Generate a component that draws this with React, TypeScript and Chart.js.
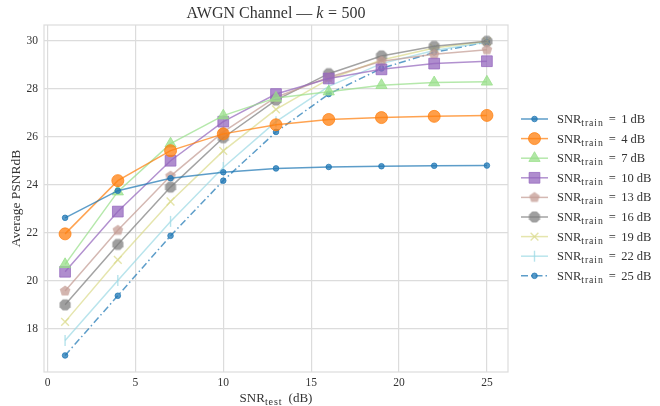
import React, { useEffect, useRef } from 'react';
import { Chart, registerables } from 'chart.js';
import { drawPoint } from 'chart.js/helpers';
Chart.register(...registerables);

const snrTest = [1, 4, 7, 10, 13, 16, 19, 22, 25];
const trainSnr = ['1', '4', '7', '10', '13', '16', '19', '22', '25'];
const s1 = [22.62, 23.75, 24.27, 24.52, 24.68, 24.74, 24.77, 24.79, 24.8];
const s4 = [21.95, 24.17, 25.42, 26.12, 26.5, 26.72, 26.8, 26.85, 26.89];
const s7 = [20.68, 23.71, 25.71, 26.88, 27.62, 27.88, 28.15, 28.26, 28.29];
const s10 = [20.37, 22.88, 25.0, 26.63, 27.78, 28.43, 28.81, 29.05, 29.15];
const s13 = [19.57, 22.1, 24.36, 26.2, 27.65, 28.48, 29.15, 29.44, 29.63];
const s16 = [18.99, 21.51, 23.9, 25.96, 27.53, 28.63, 29.37, 29.77, 29.98];
const s19 = [18.28, 20.87, 23.3, 25.41, 27.14, 28.4, 29.2, 29.7, 29.98];
const s22 = [17.5, 20.01, 22.47, 24.72, 26.63, 28.1, 29.05, 29.6, 29.95];
const s25 = [16.88, 19.37, 21.87, 24.17, 26.2, 27.78, 28.85, 29.52, 29.95];
const seriesValues = [s1, s4, s7, s10, s13, s16, s19, s22, s25];
const xTicks = [0, 5, 10, 15, 20, 25];
const yTicks = [18, 20, 22, 24, 26, 28, 30];

const rgbs = ['31,119,180', '255,127,14', '152,223,138', '148,103,189', '196,156,148', '127,127,127', '219,219,141', '158,218,229', '31,119,180'];
const FONT = '"Liberation Serif", "DejaVu Serif", serif';
const GRID = '#dcdcdc';
const TXT = '#333333';

function polyCanvas(n: number, r: number, rgb: string, rot: number) {
  const c = document.createElement('canvas');
  const s = Math.ceil(r * 2 + 2);
  c.width = s; c.height = s;
  const ctx = c.getContext('2d')!;
  ctx.beginPath();
  for (let i = 0; i < n; i++) {
    const a = rot + (i * 2 * Math.PI) / n;
    const x = s / 2 + r * Math.cos(a);
    const y = s / 2 + r * Math.sin(a);
    if (i === 0) ctx.moveTo(x, y); else ctx.lineTo(x, y);
  }
  ctx.closePath();
  ctx.fillStyle = `rgba(${rgb},0.75)`;
  ctx.fill();
  return c;
}

function makeStyles() {
  return [
    { pointStyle: 'circle', radius: 2.8, rotation: 0, bw: 1 },
    { pointStyle: 'circle', radius: 6, rotation: 0, bw: 1 },
    { pointStyle: 'triangle', radius: 6.5, rotation: 0, bw: 1 },
    { pointStyle: 'rect', radius: 7.6, rotation: 0, bw: 1 },
    { pointStyle: polyCanvas(5, 5.6, rgbs[4], -Math.PI / 2), radius: 5.6, rotation: 0, bw: 0 },
    { pointStyle: polyCanvas(8, 6, rgbs[5], Math.PI / 8), radius: 6, rotation: 0, bw: 0 },
    { pointStyle: 'crossRot', radius: 5.5, rotation: 0, bw: 1.4 },
    { pointStyle: 'line', radius: 5.5, rotation: 90, bw: 1.4 },
    { pointStyle: 'circle', radius: 2.8, rotation: 0, bw: 1 },
  ] as any[];
}

type Part = [string, string];
function drawParts(ctx: CanvasRenderingContext2D, parts: Part[], x: number, y: number, size: number, align: 'left' | 'center') {
  const setFont = (k: string) => {
    (ctx as any).letterSpacing = '0px';
    if (k === 'sub') { ctx.font = `${size * 0.78}px ${FONT}`; (ctx as any).letterSpacing = '0.9px'; }
    else if (k === 'it') ctx.font = `italic ${size}px ${FONT}`;
    else ctx.font = `${size}px ${FONT}`;
  };
  const adv = (t: string, k: string) => {
    if (k === 'gap') return Number(t);
    setFont(k);
    return ctx.measureText(t).width;
  };
  let total = 0;
  for (const [t, k] of parts) total += adv(t, k);
  let cx = align === 'center' ? x - total / 2 : x;
  ctx.textAlign = 'left';
  ctx.textBaseline = 'alphabetic';
  for (const [t, k] of parts) {
    if (k !== 'gap') {
      setFont(k);
      ctx.fillText(t, cx, k === 'sub' ? y + size * 0.24 : y);
    }
    cx += adv(t, k);
  }
  (ctx as any).letterSpacing = '0px';
}

export default function App() {
  const ref = useRef<HTMLCanvasElement>(null);
  useEffect(() => {
    const styles = makeStyles();
    const datasets = seriesValues.map((vals, i) => ({
      label: `SNR_train = ${trainSnr[i]} dB`,
      data: vals.map((v, j) => ({ x: snrTest[j], y: v })),
      borderColor: `rgba(${rgbs[i]},0.72)`,
      backgroundColor: `rgba(${rgbs[i]},0.75)`,
      pointBackgroundColor: `rgba(${rgbs[i]},0.75)`,
      pointBorderColor: `rgba(${rgbs[i]},0.75)`,
      borderWidth: 1.5,
      borderDash: i === 8 ? [7, 3, 1.5, 3] : [],
      pointStyle: styles[i].pointStyle,
      pointRadius: styles[i].radius,
      pointRotation: styles[i].rotation,
      pointBorderWidth: styles[i].bw,
      pointHoverRadius: styles[i].radius,
      tension: 0,
    }));

    const deco = {
      id: 'deco',
      beforeDatasetsDraw(chart: any) {
        const { ctx, chartArea: a } = chart;
        ctx.save();
        ctx.strokeStyle = GRID;
        ctx.lineWidth = 1.2;
        ctx.strokeRect(a.left, a.top, a.right - a.left, a.bottom - a.top);
        ctx.restore();
      },
      afterDraw(chart: any) {
        const { ctx, chartArea: a } = chart;
        ctx.save();
        ctx.fillStyle = TXT;
        const cx = (a.left + a.right) / 2;
        drawParts(ctx, [['AWGN Channel — ', 'n'], ['k', 'it'], ['4.5', 'gap'], ['=', 'n'], ['4.5', 'gap'], ['500', 'n']], cx, 18, 16, 'center');
        drawParts(ctx, [['SNR', 'n'], ['test', 'sub'], ['6', 'gap'], ['(dB)', 'n']], cx, 402, 13, 'center');
        ctx.save();
        ctx.translate(16, (a.top + a.bottom) / 2);
        ctx.rotate(-Math.PI / 2);
        drawParts(ctx, [['Average PSNRdB', 'n']], 0, 4, 13.5, 'center');
        ctx.restore();
        // legend
        const x0 = 521, x1 = 548, mx = 534.5, tx = 557;
        for (let i = 0; i < datasets.length; i++) {
          const y = 119 + i * 19.6;
          const ds = datasets[i];
          ctx.save();
          ctx.strokeStyle = ds.borderColor;
          ctx.lineWidth = 1.5;
          ctx.setLineDash(ds.borderDash);
          ctx.beginPath(); ctx.moveTo(x0, y); ctx.lineTo(x1, y); ctx.stroke();
          ctx.setLineDash([]);
          ctx.fillStyle = ds.pointBackgroundColor;
          ctx.strokeStyle = ds.pointBorderColor;
          ctx.lineWidth = styles[i].bw;
          drawPoint(ctx, { pointStyle: styles[i].pointStyle, rotation: styles[i].rotation, radius: styles[i].radius, borderWidth: styles[i].bw }, mx, y);
          ctx.restore();
          ctx.fillStyle = TXT;
          drawParts(ctx, [['SNR', 'n'], ['train', 'sub'], ['5', 'gap'], ['=', 'n'], ['5.5', 'gap'], [`${trainSnr[i]} dB`, 'n']], tx, y + 4, 12.5, 'left');
        }
        ctx.restore();
      },
    };

    const chart = new Chart(ref.current!, {
      type: 'line',
      data: { datasets } as any,
      options: {
        animation: false,
        responsive: false,
        layout: { padding: { left: 0, right: 152, top: 25, bottom: 0 } },
        plugins: { legend: { display: false }, title: { display: false }, tooltip: { enabled: false } },
        scales: {
          x: {
            type: 'linear',
            min: -0.2,
            max: 26.2,
            afterBuildTicks: (s: any) => { s.ticks = xTicks.map((v) => ({ value: v })); },
            afterFit: (s: any) => { s.height = 34; },
            grid: { color: GRID, lineWidth: 1.2, drawTicks: false },
            border: { display: false },
            ticks: { color: TXT, font: { family: FONT, size: 11.5 }, padding: 4, maxRotation: 0 },
          },
          y: {
            type: 'linear',
            min: 16.19,
            max: 30.66,
            afterBuildTicks: (s: any) => { s.ticks = yTicks.map((v) => ({ value: v })); },
            afterFit: (s: any) => { s.width = 44; },
            grid: { color: GRID, lineWidth: 1.2, drawTicks: false },
            border: { display: false },
            ticks: { color: TXT, font: { family: FONT, size: 11.5 }, padding: 6 },
          },
        },
      },
      plugins: [deco],
    } as any);
    return () => chart.destroy();
  }, []);
  return (
    <div style={{ position: 'fixed', left: 0, top: 0, width: 660, height: 406, background: '#fff' }}>
      <canvas ref={ref} width={660} height={406} style={{ width: 660, height: 406, display: 'block' }} />
    </div>
  );
}
